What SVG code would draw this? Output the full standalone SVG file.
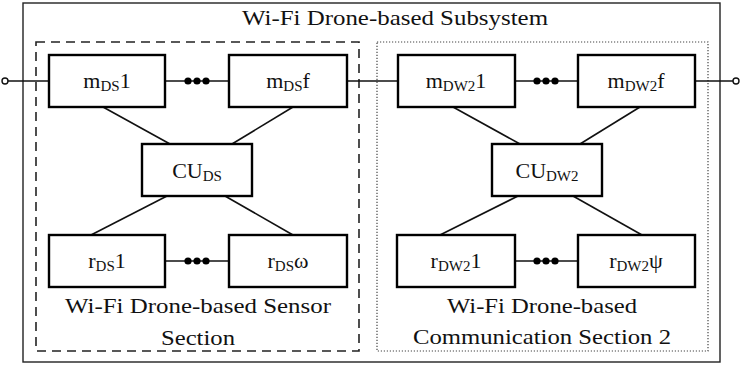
<svg xmlns="http://www.w3.org/2000/svg" width="741" height="365" viewBox="0 0 741 365" font-family="Liberation Serif">
<style>
text{fill:#111;font-family:'Liberation Serif';}
.t{font-size:22px;text-anchor:middle;}
.s{font-size:15px;}
.box{fill:#fff;stroke:#000;stroke-width:2.4;}
.ln{stroke:#111;stroke-width:1.6;fill:none;}
.dot{fill:#000;}
.term{fill:#fff;stroke:#111;stroke-width:1.4;}
</style>
<rect width="741" height="365" fill="#fff"/>
<g id="subsystem">
<rect x="23" y="3" width="697" height="359" fill="none" stroke="#222" stroke-width="1.4"/>
<text class="t" x="395" y="25" textLength="306" lengthAdjust="spacingAndGlyphs">Wi-Fi Drone-based Subsystem</text>
</g>
<g id="sensor-section">
<rect x="36" y="42" width="323" height="309" fill="none" stroke="#222" stroke-width="1.6" stroke-dasharray="9,6"/>
<text class="t" x="198" y="313" textLength="266" lengthAdjust="spacingAndGlyphs">Wi-Fi Drone-based Sensor</text>
<text class="t" x="198" y="345" textLength="74" lengthAdjust="spacingAndGlyphs">Section</text>
</g>
<g id="comm-section">
<rect x="377" y="42" width="331" height="309" fill="none" stroke="#444" stroke-width="1.2" stroke-dasharray="1.2,1.8"/>
<text class="t" x="542" y="313" textLength="190" lengthAdjust="spacingAndGlyphs">Wi-Fi Drone-based</text>
<text class="t" x="542" y="344" textLength="258" lengthAdjust="spacingAndGlyphs">Communication Section 2</text>
</g>
<g id="connectors">
<line class="ln" x1="8" y1="81" x2="49" y2="81"/>
<line class="ln" x1="165" y1="81" x2="229" y2="81"/>
<line class="ln" x1="347" y1="81" x2="398" y2="81"/>
<line class="ln" x1="515" y1="81" x2="578" y2="81"/>
<line class="ln" x1="695" y1="81" x2="733" y2="81"/>
<line class="ln" x1="165" y1="261" x2="229" y2="261"/>
<line class="ln" x1="515" y1="261" x2="578" y2="261"/>
<line class="ln" x1="103" y1="107" x2="170" y2="144"/>
<line class="ln" x1="293" y1="107" x2="232" y2="144"/>
<line class="ln" x1="453" y1="107" x2="520" y2="144"/>
<line class="ln" x1="640" y1="107" x2="580" y2="144"/>
<line class="ln" x1="167" y1="196" x2="91" y2="235"/>
<line class="ln" x1="225" y1="196" x2="293" y2="235"/>
<line class="ln" x1="518" y1="196" x2="440" y2="235"/>
<line class="ln" x1="573" y1="196" x2="642" y2="235"/>
<circle class="term" cx="5" cy="81" r="3"/>
<circle class="term" cx="736" cy="81" r="3"/>
<circle class="dot" cx="188" cy="81" r="3.6"/><circle class="dot" cx="197" cy="81" r="3.6"/><circle class="dot" cx="206" cy="81" r="3.6"/>
<circle class="dot" cx="188" cy="261" r="3.6"/><circle class="dot" cx="197" cy="261" r="3.6"/><circle class="dot" cx="206" cy="261" r="3.6"/>
<circle class="dot" cx="537" cy="81" r="3.6"/><circle class="dot" cx="546" cy="81" r="3.6"/><circle class="dot" cx="555" cy="81" r="3.6"/>
<circle class="dot" cx="537" cy="261" r="3.6"/><circle class="dot" cx="546" cy="261" r="3.6"/><circle class="dot" cx="555" cy="261" r="3.6"/>
</g>
<g id="mDS1"><rect class="box" x="49" y="55" width="116" height="52"/><text class="t" x="107" y="88">m<tspan class="s" dy="3">DS</tspan><tspan dy="-3">1</tspan></text></g>
<g id="mDSf"><rect class="box" x="229" y="55" width="118" height="52"/><text class="t" x="288" y="88">m<tspan class="s" dy="3">DS</tspan><tspan dy="-3">f</tspan></text></g>
<g id="CUDS"><rect class="box" x="142" y="144" width="110" height="52"/><text class="t" x="197" y="178">CU<tspan class="s" dy="3">DS</tspan></text></g>
<g id="rDS1"><rect class="box" x="49" y="235" width="116" height="52"/><text class="t" x="107" y="268">r<tspan class="s" dy="3">DS</tspan><tspan dy="-3">1</tspan></text></g>
<g id="rDSw"><rect class="box" x="229" y="235" width="118" height="52"/><text class="t" x="288" y="268">r<tspan class="s" dy="3">DS</tspan><tspan dy="-3">ω</tspan></text></g>
<g id="mDW21"><rect class="box" x="398" y="55" width="117" height="52"/><text class="t" x="456" y="88">m<tspan class="s" dy="3">DW2</tspan><tspan dy="-3">1</tspan></text></g>
<g id="mDW2f"><rect class="box" x="578" y="55" width="117" height="52"/><text class="t" x="636" y="88">m<tspan class="s" dy="3">DW2</tspan><tspan dy="-3">f</tspan></text></g>
<g id="CUDW2"><rect class="box" x="492" y="144" width="110" height="52"/><text class="t" x="547" y="178">CU<tspan class="s" dy="3">DW2</tspan></text></g>
<g id="rDW21"><rect class="box" x="397" y="235" width="118" height="52"/><text class="t" x="456" y="268">r<tspan class="s" dy="3">DW2</tspan><tspan dy="-3">1</tspan></text></g>
<g id="rDW2psi"><rect class="box" x="578" y="235" width="117" height="52"/><text class="t" x="636" y="268">r<tspan class="s" dy="3">DW2</tspan><tspan dy="-3">ψ</tspan></text></g>
</svg>
